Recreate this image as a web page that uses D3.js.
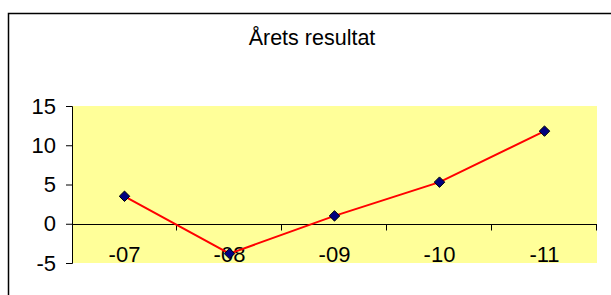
<!DOCTYPE html>
<html>
<head>
<meta charset="utf-8">
<script src="https://cdn.jsdelivr.net/npm/d3@7"></script>
<style>
  body { margin: 0; background: white; }
  svg { display: block; font-family: "Liberation Sans", Arial, sans-serif; }
</style>
</head>
<body>
<div id="wrapper"></div>
<script>
const years = ["-07", "-08", "-09", "-10", "-11"]
const resultat = [3.5, -3.8, 1.0, 5.3, 11.8]
const yTicks = [-5, 0, 5, 10, 15]
const title = "Årets resultat"

function drawChart(){

  const dataset = years.map((y, i) => ({year: y, value: resultat[i]}))
  const xAccessor = d => d.year
  const yAccessor = d => d.value

  let dimensions = {
    width: 611,
    height: 295,
    margin: {
      top: 106,
      right: 14,
      bottom: 32,
      left: 72,
    },
  }
  dimensions.boundedWidth = dimensions.width - dimensions.margin.left - dimensions.margin.right
  dimensions.boundedHeight = dimensions.height - dimensions.margin.top - dimensions.margin.bottom

  const wrapper = d3.select("#wrapper")
    .append("svg")
      .attr("width", dimensions.width)
      .attr("height", dimensions.height)

  // outer chart border, runs off the right and bottom
  wrapper.append("rect")
      .attr("x", 8.5)
      .attr("y", 13.5)
      .attr("width", 800)
      .attr("height", 400)
      .attr("fill", "none")
      .attr("stroke", "black")
      .attr("stroke-width", 1.5)

  wrapper.append("text")
      .attr("x", 312)
      .attr("y", 45)
      .attr("text-anchor", "middle")
      .style("font-size", "21.5px")
      .text(title)

  const bounds = wrapper.append("g")
      .attr("transform", `translate(${dimensions.margin.left}, ${dimensions.margin.top})`)

  const xScale = d3.scaleBand()
    .domain(years)
    .range([0, dimensions.boundedWidth])

  const yScale = d3.scaleLinear()
    .domain([-5, 15])
    .range([dimensions.boundedHeight, 0])

  bounds.append("rect")
      .attr("width", dimensions.boundedWidth)
      .attr("height", dimensions.boundedHeight)
      .attr("fill", "#ffff99")

  // y axis
  const yAxisGenerator = d3.axisLeft()
    .scale(yScale)
    .tickValues(yTicks)
    .tickFormat(d => String(d))
    .tickSize(6)
    .tickPadding(10)

  const yAxis = bounds.append("g")
      .call(yAxisGenerator)
  yAxis.select(".domain").attr("d", `M-6,${dimensions.boundedHeight + 0.5}H0.5V0.5H-6`)
  yAxis.selectAll("text").style("font-size", "22px").attr("fill", "black")
  yAxis.selectAll("line, path").attr("stroke", "black")

  // x axis sits at zero, ticks at category edges
  const xAxis = bounds.append("g")
      .attr("transform", `translate(0, ${Math.round(yScale(0)) + 0.5})`)

  xAxis.append("line")
      .attr("x1", 0)
      .attr("x2", dimensions.boundedWidth)
      .attr("stroke", "black")

  const edges = years.map(y => xScale(y)).concat([dimensions.boundedWidth])
  xAxis.selectAll(".edge")
    .data(edges.slice(1))
    .enter().append("line")
      .attr("x1", d => Math.round(d) - 0.5)
      .attr("x2", d => Math.round(d) - 0.5)
      .attr("y1", 0)
      .attr("y2", 6)
      .attr("stroke", "black")

  xAxis.selectAll(".cat")
    .data(years)
    .enter().append("text")
      .attr("x", d => xScale(d) + xScale.bandwidth() / 2)
      .attr("y", 37)
      .attr("text-anchor", "middle")
      .style("font-size", "22px")
      .text(d => d)

  const lineGenerator = d3.line()
    .x(d => xScale(xAccessor(d)) + xScale.bandwidth() / 2)
    .y(d => yScale(yAccessor(d)))

  bounds.append("path")
      .attr("d", lineGenerator(dataset))
      .attr("fill", "none")
      .attr("stroke", "#ff0000")
      .attr("stroke-width", 2)

  const diamond = d3.symbol().type(d3.symbolDiamond2).size(70)
  bounds.selectAll(".dot")
    .data(dataset)
    .enter().append("path")
      .attr("d", diamond)
      .attr("transform", d => `translate(${xScale(xAccessor(d)) + xScale.bandwidth() / 2}, ${yScale(yAccessor(d))})`)
      .attr("fill", "#000080")
      .attr("stroke", "black")
      .attr("stroke-width", 1)
}

drawChart()
</script>
</body>
</html>
